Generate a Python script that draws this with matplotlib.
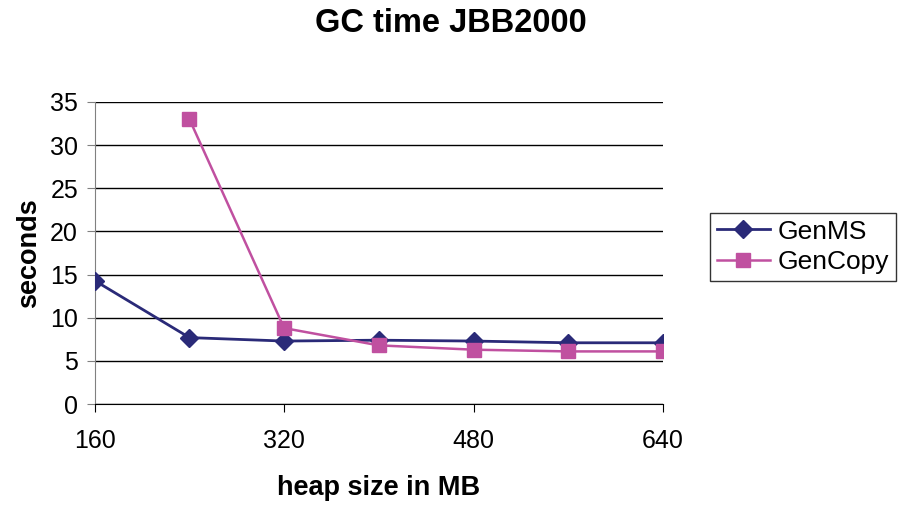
import matplotlib.pyplot as plt

plt.rcParams['font.family'] = ['Liberation Sans', 'DejaVu Sans']

heap = [160, 240, 320, 400, 480, 560, 640]
genms = [14.3, 7.7, 7.3, 7.4, 7.3, 7.1, 7.1]
gencopy_heap = [240, 320, 400, 480, 560, 640]
gencopy = [33.0, 8.8, 6.8, 6.3, 6.1, 6.1]

fig = plt.figure(figsize=(9.02, 5.07), dpi=100)
ax = fig.add_axes([0.105, 0.203, 0.63, 0.596])

ax.plot(heap, genms, color='#2a2a78', marker='D', markersize=9, linewidth=2, label='GenMS', zorder=3)
ax.plot(gencopy_heap, gencopy, color='#c050a0', marker='s', markersize=10, linewidth=1.8, label='GenCopy', zorder=3)

ax.set_xlim(160, 640)
ax.set_ylim(0, 35)
ax.set_xticks([160, 320, 480, 640])
ax.set_yticks(range(0, 36, 5))
ax.yaxis.grid(True, color='black', linewidth=1)
ax.set_axisbelow(True)
for s in ['top', 'right']:
    ax.spines[s].set_visible(False)
ax.spines['left'].set_color('#808080')
ax.spines['bottom'].set_color('black')
ax.tick_params(axis='both', labelsize=18, length=6)
ax.tick_params(axis='y', colors='#808080', labelcolor='black', pad=6)
ax.tick_params(axis='x', pad=12)

ax.set_xlabel('heap size in MB', fontsize=19.5, fontweight='bold', labelpad=16)
ax.set_ylabel('seconds', fontsize=19.5, fontweight='bold', labelpad=6)
fig.suptitle('GC time JBB2000', fontsize=23.5, fontweight='bold', y=0.985)

leg = ax.legend(loc='center left', bbox_to_anchor=(1.083, 0.52), fontsize=19,
                frameon=True, fancybox=False, edgecolor='black', handlelength=2.0,
                borderpad=0.25, labelspacing=0.25, handletextpad=0.3, borderaxespad=0)
leg.get_frame().set_linewidth(1)

fig.savefig('out.png', dpi=100)
